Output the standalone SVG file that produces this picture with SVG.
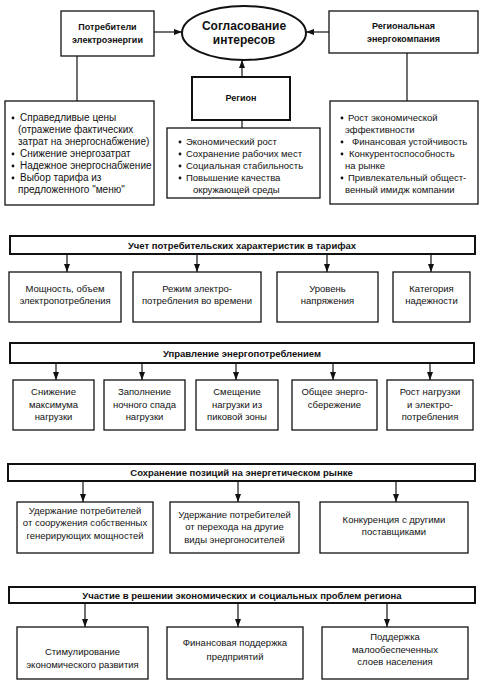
<svg xmlns="http://www.w3.org/2000/svg" width="482" height="683" viewBox="0 0 482 683">
<defs>
<marker id="arr" viewBox="0 0 8 6" refX="8" refY="3" markerWidth="8" markerHeight="6" markerUnits="userSpaceOnUse" orient="auto">
<path d="M0,0 L8,3 L0,6 Z" fill="#111"/>
</marker>
<style>
.box{fill:#fff;stroke:#111;stroke-width:1.3}
.bbox{fill:#fff;stroke:#111;stroke-width:2}
.hdr{fill:#fff;stroke:#111;stroke-width:2}
.t{font-family:"Liberation Sans",Arial,sans-serif;font-size:9.5px;fill:#111}
.c{text-anchor:middle}
.b{font-weight:bold}
.l10{font-size:10px}
.ln{stroke:#111;stroke-width:1.2;fill:none}
.dot{fill:#111}
</style>
</defs>
<rect width="482" height="683" fill="#fff"/>

<g id="connectors">
<line class="ln" x1="154" y1="32" x2="182" y2="32" marker-end="url(#arr)"/>
<line class="ln" x1="329" y1="32" x2="306" y2="32" marker-end="url(#arr)"/>
<line class="ln" x1="242" y1="77" x2="242" y2="60" marker-end="url(#arr)"/>
<line class="ln" x1="242" y1="120" x2="242" y2="128"/>
<line class="ln" x1="77" y1="56" x2="77" y2="101"/>
<line class="ln" x1="407" y1="53" x2="407" y2="101"/>
<line class="ln" x1="67" y1="254" x2="67" y2="272" marker-end="url(#arr)"/>
<line class="ln" x1="197" y1="254" x2="197" y2="272" marker-end="url(#arr)"/>
<line class="ln" x1="327" y1="254" x2="327" y2="272" marker-end="url(#arr)"/>
<line class="ln" x1="431" y1="254" x2="431" y2="272" marker-end="url(#arr)"/>
<line class="ln" x1="56" y1="363" x2="56" y2="380" marker-end="url(#arr)"/>
<line class="ln" x1="142" y1="363" x2="142" y2="380" marker-end="url(#arr)"/>
<line class="ln" x1="236" y1="363" x2="236" y2="380" marker-end="url(#arr)"/>
<line class="ln" x1="333" y1="363" x2="333" y2="380" marker-end="url(#arr)"/>
<line class="ln" x1="430" y1="363" x2="430" y2="380" marker-end="url(#arr)"/>
<line class="ln" x1="83" y1="481" x2="83" y2="502" marker-end="url(#arr)"/>
<line class="ln" x1="238" y1="481" x2="238" y2="502" marker-end="url(#arr)"/>
<line class="ln" x1="396" y1="481" x2="396" y2="502" marker-end="url(#arr)"/>
<line class="ln" x1="85" y1="603" x2="85" y2="627" marker-end="url(#arr)"/>
<line class="ln" x1="238" y1="603" x2="238" y2="627" marker-end="url(#arr)"/>
<line class="ln" x1="387" y1="603" x2="387" y2="627" marker-end="url(#arr)"/>
</g>

<g id="consumers">
<rect class="box" x="61" y="11" width="93" height="45"/>
<text class="t c b" x="107.5" y="30" style="font-size:9px">Потребители</text>
<text class="t c b" x="107.5" y="43" style="font-size:9px">электроэнергии</text>
</g>

<g id="agreement">
<ellipse cx="244" cy="33" rx="62" ry="27" fill="#fff" stroke="#111" stroke-width="2"/>
<text class="t c b" x="244" y="30" style="font-size:12px">Согласование</text>
<text class="t c b" x="244" y="44" style="font-size:12px">интересов</text>
</g>

<g id="company">
<rect class="box" x="329" y="11" width="149" height="42"/>
<text class="t c b" x="403.5" y="29" style="font-size:9px">Региональная</text>
<text class="t c b" x="403.5" y="42" style="font-size:9px">энергокомпания</text>
</g>

<g id="region">
<rect class="bbox" x="192" y="77" width="98" height="43"/>
<text class="t c b" x="241" y="101" style="font-size:9px">Регион</text>
</g>

<g id="consumer-list">
<rect class="box" x="5" y="101" width="149" height="104"/>
<circle class="dot" cx="13" cy="118" r="1.4"/>
<text class="t l10" x="20" y="121">Справедливые цены</text>
<text class="t l10" x="18" y="133">(отражение фактических</text>
<text class="t l10" x="18" y="145">затрат на энергоснабжение)</text>
<circle class="dot" cx="13" cy="154" r="1.4"/>
<text class="t l10" x="20" y="157">Снижение энергозатрат</text>
<circle class="dot" cx="13" cy="166" r="1.4"/>
<text class="t l10" x="20" y="169">Надежное энергоснабжение</text>
<circle class="dot" cx="13" cy="178" r="1.4"/>
<text class="t l10" x="20" y="181">Выбор тарифа из</text>
<text class="t l10" x="18" y="193">предложенного "меню"</text>
</g>

<g id="region-list">
<rect class="box" x="167" y="128" width="153" height="70"/>
<circle class="dot" cx="180" cy="142" r="1.4"/>
<text class="t" x="186" y="145">Экономический рост</text>
<circle class="dot" cx="180" cy="154" r="1.4"/>
<text class="t" x="186" y="157">Сохранение рабочих мест</text>
<circle class="dot" cx="180" cy="166" r="1.4"/>
<text class="t" x="186" y="169">Социальная стабильность</text>
<circle class="dot" cx="180" cy="178" r="1.4"/>
<text class="t" x="186" y="181">Повышение качества</text>
<text class="t" x="193" y="193">окружающей среды</text>
</g>

<g id="company-list">
<rect class="box" x="330" y="101" width="148" height="103"/>
<circle class="dot" cx="342" cy="118" r="1.4"/>
<text class="t" x="348" y="121">Рост экономической</text>
<text class="t" x="345" y="133">эффективности</text>
<circle class="dot" cx="342" cy="142" r="1.4"/>
<text class="t" x="352" y="145">Финансовая устойчивость</text>
<circle class="dot" cx="342" cy="154" r="1.4"/>
<text class="t" x="349" y="157">Конкурентоспособность</text>
<text class="t" x="345" y="169">на рынке</text>
<circle class="dot" cx="342" cy="178" r="1.4"/>
<text class="t" x="348" y="181">Привлекательный общест-</text>
<text class="t" x="345" y="193">венный имидж компании</text>
</g>

<g id="tariffs">
<rect class="hdr" x="10" y="236" width="465" height="18"/>
<text class="t c b" x="242" y="248.5">Учет потребительских характеристик в тарифах</text>
</g>
<g id="t1"><rect class="box" x="9" y="272" width="112" height="50"/>
<text class="t c" x="65" y="292">Мощность, объем</text><text class="t c" x="65" y="304">электропотребления</text></g>
<g id="t2"><rect class="box" x="133" y="272" width="128" height="50"/>
<text class="t c" x="197" y="292">Режим электро-</text><text class="t c" x="197" y="304">потребления во времени</text></g>
<g id="t3"><rect class="box" x="277" y="272" width="101" height="50"/>
<text class="t c" x="327.5" y="292">Уровень</text><text class="t c" x="327.5" y="304">напряжения</text></g>
<g id="t4"><rect class="box" x="393" y="272" width="77" height="50"/>
<text class="t c" x="431.5" y="292">Категория</text><text class="t c" x="431.5" y="304">надежности</text></g>

<g id="management">
<rect class="hdr" x="10" y="343" width="464" height="20"/>
<text class="t c b" x="242" y="356.5">Управление энергопотреблением</text>
</g>
<g id="m1"><rect class="box" x="13" y="380" width="81" height="50"/>
<text class="t c" x="53.5" y="395">Снижение</text><text class="t c" x="53.5" y="408">максимума</text><text class="t c" x="53.5" y="420">нагрузки</text></g>
<g id="m2"><rect class="box" x="104" y="380" width="81" height="50"/>
<text class="t c" x="144.5" y="395">Заполнение</text><text class="t c" x="144.5" y="408">ночного спада</text><text class="t c" x="144.5" y="420">нагрузки</text></g>
<g id="m3"><rect class="box" x="196" y="380" width="82" height="50"/>
<text class="t c" x="237" y="395">Смещение</text><text class="t c" x="237" y="408">нагрузки из</text><text class="t c" x="237" y="420">пиковой зоны</text></g>
<g id="m4"><rect class="box" x="292" y="380" width="85" height="50"/>
<text class="t c" x="334.5" y="395">Общее энерго-</text><text class="t c" x="334.5" y="408">сбережение</text></g>
<g id="m5"><rect class="box" x="387" y="380" width="86" height="50"/>
<text class="t c" x="430" y="395">Рост нагрузки</text><text class="t c" x="430" y="408">и электро-</text><text class="t c" x="430" y="420">потребления</text></g>

<g id="market">
<rect class="hdr" x="8" y="464" width="467" height="17"/>
<text class="t c b" x="241.5" y="476">Сохранение позиций на энергетическом рынке</text>
</g>
<g id="k1"><rect class="box" x="17" y="502" width="136" height="51"/>
<text class="t c" x="85" y="514">Удержание потребителей</text><text class="t c" x="85" y="526">от сооружения собственных</text><text class="t c" x="85" y="539">генерирующих мощностей</text></g>
<g id="k2"><rect class="box" x="170" y="502" width="129" height="51"/>
<text class="t c" x="234.5" y="518">Удержание потребителей</text><text class="t c" x="234.5" y="530">от перехода на другие</text><text class="t c" x="234.5" y="543">виды энергоносителей</text></g>
<g id="k3"><rect class="box" x="320" y="502" width="148" height="51"/>
<text class="t c" x="394" y="523">Конкуренция с другими</text><text class="t c" x="394" y="535">поставщиками</text></g>

<g id="participation">
<rect class="hdr" x="9" y="587" width="466" height="16"/>
<text class="t c b" x="242" y="598.5">Участие в решении экономических и социальных проблем региона</text>
</g>
<g id="p1"><rect class="box" x="17" y="627" width="131" height="52"/>
<text class="t c" x="82.5" y="655">Стимулирование</text><text class="t c" x="82.5" y="668">экономического развития</text></g>
<g id="p2"><rect class="box" x="167" y="627" width="136" height="52"/>
<text class="t c" x="235" y="646">Финансовая поддержка</text><text class="t c" x="235" y="660">предприятий</text></g>
<g id="p3"><rect class="box" x="322" y="627" width="146" height="52"/>
<text class="t c" x="395" y="640">Поддержка</text><text class="t c" x="395" y="653">малообеспеченных</text><text class="t c" x="395" y="665">слоев населения</text></g>
</svg>
